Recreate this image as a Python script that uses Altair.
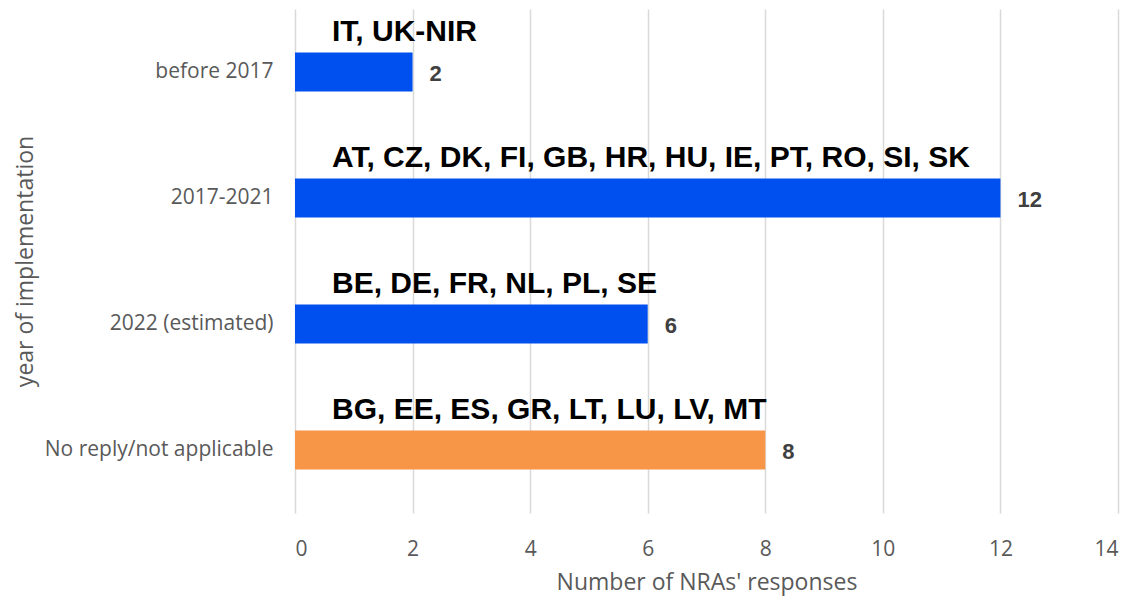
import altair as alt
import pandas as pd

categories = ["before 2017", "2017-2021", "2022 (estimated)", "No reply/not applicable"]
values = [2, 12, 6, 8]
countries = [
    "IT, UK-NIR",
    "AT, CZ, DK, FI, GB, HR, HU, IE, PT, RO, SI, SK",
    "BE, DE, FR, NL, PL, SE",
    "BG, EE, ES, GR, LT, LU, LV, MT",
]
colors = ["#0050EF", "#0050EF", "#0050EF", "#F79646"]

df = pd.DataFrame({"cat": categories, "val": values, "countries": countries,
                   "color": colors, "zero": [0] * 4})

y_enc = alt.Y("cat:N", sort=categories,
              scale=alt.Scale(paddingInner=0.69, paddingOuter=0.345),
              axis=alt.Axis(title="year of implementation", labelFont="Open Sans",
                            labelFontSize=21, labelColor="#595959", labelPadding=22,
                            labelLimit=400,
                            ticks=False, domain=False, titleFont="Open Sans",
                            titleFontSize=23, titleFontWeight="normal",
                            titleColor="#595959", titleX=-263, titleBaseline="alphabetic"))

base = alt.Chart(df)

bars = base.mark_bar().encode(
    x=alt.X("val:Q", scale=alt.Scale(domain=[0, 14]),
            axis=alt.Axis(values=[0, 2, 4, 6, 8, 10, 12, 14], format="d",
                          title="Number of NRAs' responses",
                          labelFont="Open Sans", labelFontSize=21, labelColor="#595959",
                          labelPadding=25, ticks=False, domain=False, grid=True,
                          gridColor="#D9D9D9", gridWidth=1.5,
                          titleFont="Open Sans", titleFontSize=23, titleFontWeight="normal",
                          titleColor="#595959", titlePadding=12)),
    y=y_enc,
    color=alt.Color("color:N", scale=None),
)

vals = base.mark_text(align="left", baseline="middle", dx=17, dy=2, font="Liberation Sans",
                      fontWeight="bold", fontSize=22, color="#404040").encode(
    x="val:Q", y=alt.Y("cat:N", sort=categories), text="val:Q")

labels = base.mark_text(align="left", baseline="alphabetic", dx=37, dy=-31, font="Liberation Sans",
                        fontWeight="bold", fontSize=30, color="#000000").encode(
    x="zero:Q", y=alt.Y("cat:N", sort=categories), text="countries:N")

chart = (bars + vals + labels).properties(
    width=823, height=504,
    autosize=alt.AutoSizeParams(type="none"),
    padding={"left": 287, "top": 1, "right": 10, "bottom": 88},
).configure_view(stroke=None)

chart.save("out.html", embed_options={"renderer": "svg", "actions": False})
